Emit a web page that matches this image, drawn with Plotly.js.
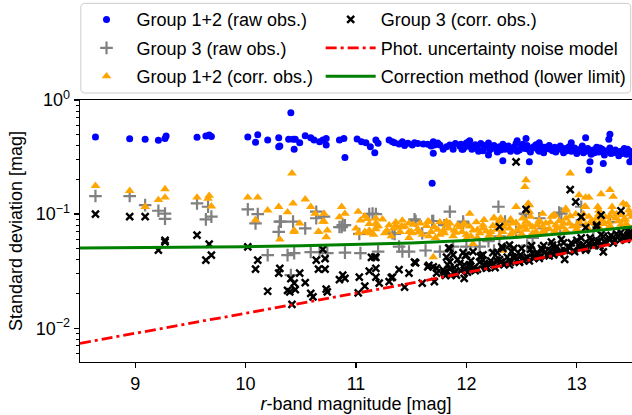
<!DOCTYPE html>
<html>
<head>
<meta charset="utf-8">
<script src="https://cdn.plot.ly/plotly-3.0.1.min.js"></script>
<style>
  html, body { margin: 0; padding: 0; background: #fff; overflow: hidden; }
  #chart { width: 632px; height: 415px; }
</style>
</head>
<body>
<div id="chart"></div>
<script>
// ---- data: [r-band magnitude, standard deviation] ----
const group12Raw = [
  [8.64,0.473],[8.95,0.458],[9.09,0.452],[9.21,0.443],[9.27,0.461],[9.28,0.483],[9.56,0.471],[9.64,0.483],
  [9.67,0.493],[9.69,0.48],[10.02,0.473],[10.11,0.496],[10.09,0.426],[10.20,0.446],[10.30,0.467],[10.30,0.389],
  [10.41,0.774],[10.31,0.395],[10.39,0.452],[10.43,0.452],[10.45,0.452],[10.44,0.37],[10.49,0.422],[10.54,0.486],
  [10.59,0.467],[10.62,0.446],[10.67,0.431],[10.70,0.446],[10.73,0.461],[10.73,0.403],[10.85,0.446],[10.89,0.461],
  [10.90,0.314],[11.01,0.455],[11.05,0.431],[11.09,0.422],[11.13,0.389],[11.18,0.446],[11.20,0.417],[11.17,0.345],
  [11.30,0.446],[11.35,0.422],[11.39,0.411],[11.42,0.431],[11.47,0.417],[11.51,0.403],[11.53,0.422],[11.61,0.411],
  [11.65,0.409],[11.70,0.431],[11.71,0.403],[11.70,0.341],[11.76,0.403],[11.79,0.37],[11.85,0.403],[11.88,0.37],
  [11.94,0.395],[11.97,0.37],[12.02,0.431],[11.69,0.186],[11.33,0.43],[11.44,0.40],[11.56,0.415],[11.68,0.395],
  [11.74,0.42],[11.82,0.39],[11.90,0.415],
  [12.33,0.293],[12.57,0.287],[12.46,0.44],[12.54,0.461],[12.95,0.422],[13.08,0.467],[13.30,0.50],[13.29,0.452],
  [13.11,0.243],[13.12,0.287],[13.24,0.278],[12.03,0.44],[12.20,0.33],[12.66,0.422],[13.48,0.287],
  [11.95,0.41],[11.98,0.385],[12.00,0.42],[12.03,0.395],[12.05,0.37],[12.08,0.405],[12.10,0.38],[12.13,0.415],
  [12.15,0.36],[12.18,0.395],[12.20,0.42],[12.23,0.375],[12.25,0.40],[12.28,0.35],[12.30,0.39],[12.33,0.41],
  [12.35,0.37],[12.38,0.395],[12.40,0.355],[12.43,0.385],[12.45,0.415],[12.48,0.365],[12.50,0.39],[12.53,0.375],
  [12.55,0.40],[12.58,0.35],[12.60,0.38],[12.63,0.405],[12.65,0.365],[12.68,0.39],[12.70,0.345],[12.73,0.375],
  [12.75,0.40],[12.78,0.36],[12.80,0.385],[12.83,0.37],[12.85,0.395],[12.88,0.345],[12.90,0.375],[12.93,0.39],
  [12.95,0.355],[12.98,0.38],[13.00,0.34],[13.03,0.37],[13.05,0.395],[13.08,0.355],[13.10,0.375],[13.13,0.335],
  [13.15,0.365],[13.18,0.385],[13.20,0.35],[13.23,0.37],[13.25,0.33],[13.28,0.36],[13.30,0.38],[13.33,0.345],
  [13.35,0.365],[13.38,0.325],[13.40,0.355],[13.43,0.375],[13.45,0.335],[13.48,0.355],[13.50,0.32],
  [11.96,0.37],[12.01,0.395],[12.06,0.39],[12.11,0.355],[12.16,0.40],[12.21,0.365],[12.26,0.385],[12.31,0.365],
  [12.36,0.39],[12.41,0.375],[12.46,0.355],[12.51,0.41],[12.56,0.37],[12.61,0.39],[12.66,0.355],[12.71,0.385],
  [12.76,0.37],[12.81,0.35],[12.86,0.38],[12.91,0.36],[12.96,0.375],[13.01,0.36],[13.06,0.345],[13.11,0.36],
  [13.16,0.345],[13.21,0.38],[13.26,0.355],[13.31,0.34],[13.36,0.35],[13.41,0.34],[13.46,0.37],[13.49,0.34]
];

const group3Raw = [
  [8.64,0.144],[8.95,0.144],[9.09,0.12],[9.21,0.107],[9.27,0.101],[9.27,0.091],[9.56,0.124],[9.66,0.116],
  [9.64,0.09],[9.69,0.095],[10.02,0.11],[10.11,0.1],[10.09,0.083],[10.30,0.07],
  [10.32,0.086],[10.43,0.086],[10.54,0.075],[10.20,0.0437],[10.38,0.0437],[10.44,0.0455],[10.59,0.0465],
  [10.67,0.0465],[10.74,0.0455],[10.90,0.046],[10.41,0.0292],[10.85,0.077],[10.88,0.08],
  [10.31,0.086],[10.64,0.105],[10.64,0.092],[10.71,0.095],[10.87,0.077],[10.90,0.08],[11.12,0.1],[11.18,0.1],
  [11.03,0.067],[11.35,0.067],[11.53,0.09],[11.69,0.087],[11.85,0.105],[11.80,0.08],[11.97,0.083],
  [11.15,0.101],[11.33,0.068],[11.42,0.047],[11.48,0.047],[11.54,0.087],[11.63,0.048],[11.70,0.087],[11.76,0.047],
  [11.88,0.052],[12.00,0.052],[12.12,0.052],[12.29,0.116],[12.53,0.101],[12.86,0.101],[11.20,0.047],[11.39,0.052],
  [11.04,0.0455],[11.60,0.068],
  [12.84,0.103],[12.66,0.092],[12.54,0.1],[12.35,0.086],[11.97,0.086],[13.04,0.116],
  [12.2,0.058],[12.3,0.064],[12.45,0.07],[12.6,0.062],[12.7,0.075],[12.85,0.068],[13.0,0.08],[13.15,0.072],
  [13.3,0.085],[13.45,0.078],[12.25,0.048],[12.4,0.05],[12.55,0.053]
];

const group12Corr = [
  [8.64,0.177],[8.95,0.16],[9.09,0.116],[9.21,0.133],[9.27,0.166],[9.27,0.14],[9.56,0.14],[9.66,0.137],
  [9.67,0.145],[9.69,0.117],[10.02,0.14],[10.11,0.14],[10.09,0.0886],[10.20,0.108],[10.30,0.116],
  [10.31,0.06],[10.44,0.07],[10.49,0.083],[10.66,0.07],[10.71,0.086],[10.74,0.072],[10.73,0.063],
  [10.42,0.228],[10.43,0.124],[10.38,0.104],[10.54,0.135],[10.59,0.116],[10.63,0.101],[10.71,0.101],[10.87,0.116],
  [10.90,0.101],[10.85,0.094],[11.02,0.105],[11.08,0.096],[11.18,0.092],[11.19,0.078],[11.12,0.072],[11.30,0.08],
  [11.36,0.077],[11.41,0.078],[11.48,0.083],[11.51,0.068],[11.66,0.086],[11.71,0.077],[11.79,0.072],[11.85,0.083],
  [11.94,0.077],[10.70,0.086],[10.66,0.07],[10.44,0.072],
  [11.18,0.083],[11.12,0.068],[11.36,0.08],[11.42,0.077],[11.48,0.07],[11.57,0.07],[11.65,0.086],[11.76,0.066],
  [11.82,0.08],[11.89,0.072],[12.03,0.101],[11.97,0.08],[12.06,0.055],[12.15,0.075],[12.25,0.092],[11.70,0.042],
  [12.33,0.048],[12.42,0.083],[12.54,0.086],[12.57,0.12],[12.66,0.086],[12.77,0.095],[12.90,0.108],[13.08,0.116],
  [13.20,0.108],[13.32,0.116],[13.45,0.12],
  [12.94,0.228],[12.54,0.199],[12.53,0.173],[12.56,0.124],[13.30,0.163],[13.33,0.142],[13.22,0.15],[13.11,0.14],
  [13.02,0.147],[13.08,0.14],[12.25,0.093],[12.31,0.092],[12.90,0.112],[13.07,0.116],[13.19,0.116],[13.42,0.124],
  [12.45,0.116],[12.57,0.105],[12.69,0.101],[12.80,0.098],
  [11.00,0.075],[11.04,0.088],[11.08,0.07],[11.12,0.082],[11.16,0.066],[11.20,0.079],[11.24,0.09],[11.28,0.072],
  [11.32,0.064],[11.36,0.085],[11.40,0.07],[11.44,0.078],[11.48,0.062],[11.52,0.081],[11.56,0.074],[11.60,0.066],
  [11.64,0.079],[11.68,0.07],[11.72,0.062],[11.76,0.085],[11.80,0.068],[11.84,0.075],[11.88,0.064],[11.92,0.08],
  [11.96,0.07],[12.00,0.066],[12.03,0.078],[12.06,0.072],[12.09,0.085],[12.12,0.068],[12.15,0.08],[12.18,0.071],
  [12.21,0.066],[12.24,0.079],[12.27,0.073],[12.30,0.088],[12.33,0.07],[12.36,0.082],[12.39,0.075],[12.42,0.069],
  [12.45,0.084],[12.48,0.076],[12.51,0.092],[12.54,0.073],[12.57,0.081],[12.60,0.077],[12.63,0.07],[12.66,0.088],
  [12.69,0.078],[12.72,0.083],[12.75,0.074],[12.78,0.096],[12.81,0.08],[12.84,0.087],[12.87,0.077],[12.90,0.092],
  [12.93,0.083],[12.96,0.078],[12.99,0.1],[13.02,0.085],[13.05,0.09],[13.08,0.08],[13.11,0.095],[13.14,0.087],
  [13.17,0.082],[13.20,0.1],[13.23,0.089],[13.26,0.094],[13.29,0.085],[13.32,0.104],[13.35,0.092],[13.38,0.087],
  [13.41,0.098],[13.44,0.09],[13.47,0.108],[13.50,0.095],
  [11.02,0.068],[11.10,0.091],[11.18,0.074],[11.26,0.068],[11.34,0.075],[11.42,0.088],[11.50,0.07],[11.58,0.083],
  [11.66,0.064],[11.74,0.073],[11.82,0.086],[11.90,0.069],[11.98,0.083],[12.04,0.064],[12.10,0.073],[12.16,0.089],
  [12.22,0.07],[12.28,0.081],[12.34,0.077],[12.40,0.09],[12.46,0.072],[12.52,0.079],[12.58,0.095],[12.64,0.08],
  [12.70,0.072],[12.76,0.085],[12.82,0.075],[12.88,0.083],[12.94,0.096],[13.00,0.079],[13.06,0.1],[13.12,0.084],
  [13.18,0.092],[13.24,0.082],[13.30,0.096],[13.36,0.1],[13.42,0.088],[13.48,0.1],
  [12.0,0.061],[12.2,0.063],[12.4,0.066],[12.6,0.068],[12.8,0.071],[13.0,0.074],[13.2,0.077],[13.4,0.081],
  [12.1,0.062],[12.3,0.064],[12.5,0.067],[12.7,0.07],[12.9,0.072],[13.1,0.075],[13.3,0.079],[13.45,0.082]
];

const group3Corr = [
  [8.64,0.1],[8.95,0.095],[9.09,0.095],[9.56,0.0655],[9.27,0.059],
  [9.21,0.0483],[9.27,0.0572],[9.67,0.0545],[9.64,0.0395],[9.69,0.0437],[10.02,0.0516],[10.11,0.0395],[10.09,0.033],
  [10.20,0.0211],[10.31,0.0335],[10.30,0.0304],[10.41,0.0272],[10.44,0.0248],[10.49,0.0304],[10.54,0.0251],
  [10.38,0.0215],[10.45,0.0218],[10.40,0.0208],[10.42,0.0162],[10.59,0.0202],[10.61,0.0188],[10.64,0.0395],
  [10.66,0.033],[10.72,0.033],[10.72,0.0408],[10.70,0.049],[10.73,0.022],[10.74,0.0208],[10.85,0.0267],
  [10.88,0.0292],[10.90,0.0273],
  [11.03,0.0281],[11.08,0.0234],[11.02,0.0204],[11.12,0.0317],[11.18,0.0334],[11.18,0.0281],[11.21,0.0248],
  [11.14,0.0418],[11.18,0.0418],[11.32,0.0278],[11.39,0.0326],[11.30,0.0256],[11.44,0.0229],[11.48,0.0304],
  [11.54,0.0374],[11.60,0.0248],[11.65,0.0345],[11.70,0.0345],[11.73,0.0304],[11.71,0.0256],[11.79,0.0323],
  [11.85,0.0382],[11.85,0.0499],[12.00,0.0437],[11.91,0.0292],[11.98,0.0273],[12.03,0.0345],[12.15,0.0395],
  [12.18,0.0336],[12.27,0.0395],[12.30,0.0775],[12.33,0.05],[12.39,0.0534],[12.42,0.0421],[12.48,0.038],
  [12.54,0.11],[12.60,0.0451],[12.69,0.0483],[12.78,0.0534],[12.89,0.0401],[12.99,0.128],[13.04,0.0946],
  [13.08,0.0483],[13.18,0.0775],[13.22,0.098],[13.24,0.0466],[13.40,0.107],
  [12.45,0.287],[12.94,0.164],[13.08,0.076],[13.18,0.08],
  [11.84,0.0506],[11.99,0.0433],[12.13,0.042],[11.53,0.038],[11.17,0.042],[11.33,0.028],[11.66,0.0356],[11.73,0.0336],
  [11.80,0.031],[11.83,0.036],[11.86,0.029],[11.89,0.034],[11.92,0.040],[11.95,0.032],[11.98,0.036],[12.01,0.031],
  [12.04,0.039],[12.07,0.034],[12.10,0.033],[12.13,0.043],[12.16,0.036],[12.19,0.034],[12.22,0.039],[12.25,0.036],
  [12.28,0.046],[12.31,0.038],[12.34,0.036],[12.37,0.042],[12.40,0.038],[12.43,0.050],[12.46,0.040],[12.49,0.044],
  [12.52,0.039],[12.55,0.042],[12.58,0.049],[12.61,0.041],[12.64,0.046],[12.67,0.043],[12.70,0.053],[12.73,0.044],
  [12.76,0.048],[12.79,0.044],[12.82,0.052],[12.85,0.047],[12.88,0.056],[12.91,0.048],[12.94,0.051],[12.97,0.048],
  [13.00,0.059],[13.03,0.050],[13.06,0.054],[13.09,0.050],[13.12,0.062],[13.15,0.053],[13.18,0.057],[13.21,0.053],
  [13.24,0.064],[13.27,0.056],[13.30,0.060],[13.33,0.056],[13.36,0.067],[13.39,0.059],[13.42,0.063],[13.45,0.060],
  [13.48,0.070],[13.50,0.062],
  [11.81,0.029],[11.85,0.033],[11.90,0.031],[11.94,0.037],[11.99,0.033],[12.03,0.036],[12.08,0.032],[12.12,0.038],
  [12.17,0.035],[12.21,0.037],[12.26,0.034],[12.30,0.040],[12.35,0.037],[12.39,0.036],[12.44,0.042],[12.48,0.038],
  [12.53,0.041],[12.57,0.039],[12.62,0.043],[12.66,0.041],[12.71,0.046],[12.75,0.043],[12.80,0.047],[12.84,0.045],
  [12.89,0.048],[12.93,0.051],[12.98,0.047],[13.02,0.053],[13.07,0.051],[13.11,0.055],[13.16,0.055],[13.20,0.058],
  [13.25,0.057],[13.29,0.062],[13.34,0.060],[13.38,0.064],[13.43,0.062],[13.47,0.066],[13.49,0.064],
  [11.82,0.042],[11.88,0.044],[11.97,0.046],[12.06,0.047],[12.15,0.044],[12.24,0.046],[12.32,0.052],[12.41,0.047],
  [12.50,0.050],[12.59,0.053],[12.68,0.050],[12.77,0.057],[12.86,0.060],[12.95,0.056],[13.04,0.062],[13.13,0.059],
  [13.22,0.066],[13.31,0.065],[13.40,0.069],[13.46,0.072]
];

// model curves sampled along magnitude
const modelMag   = [8.5, 9.0, 9.5, 10.0, 10.5, 11.0, 11.5, 12.0, 12.5, 13.0, 13.5];
const photNoise  = [0.00738, 0.00902, 0.0110, 0.01346, 0.01644, 0.0201, 0.0248, 0.0308, 0.0382, 0.0476, 0.0592];
const corrLimit  = [0.0505, 0.0508, 0.0512, 0.0518, 0.0527, 0.0540, 0.0559, 0.0588, 0.0629, 0.0690, 0.0771];

// axis ticks
const xTickVals   = [9, 10, 11, 12, 13];
const yTickVals   = [0.01, 0.1, 1];
const yTickText   = ['10<sup>\u22122</sup>', '10<sup>\u22121</sup>', '10<sup>0</sup>'];
const yMinorTicks = [0.006, 0.007, 0.008, 0.009,
                     0.02, 0.03, 0.04, 0.05, 0.06, 0.07, 0.08, 0.09,
                     0.2, 0.3, 0.4, 0.5, 0.6, 0.7, 0.8, 0.9];

const FONT = 'Liberation Sans, Arial, Helvetica, sans-serif';
const FS = 18;

const col = (pairs, i) => pairs.map(p => p[i]);

const traces = [
  {
    type: 'scatter', mode: 'markers', name: 'Group 1+2 (raw obs.)',
    x: col(group12Raw, 0), y: col(group12Raw, 1),
    marker: { symbol: 'circle', size: 7, color: '#0000ff', line: { width: 0 } },
    legend: 'legend', legendgroup: 'g1'
  },
  {
    type: 'scatter', mode: 'markers', name: 'Group 3 (raw obs.)',
    x: col(group3Raw, 0), y: col(group3Raw, 1),
    marker: { symbol: 'cross-thin', size: 9, color: '#808080', line: { width: 2.2, color: '#808080' } },
    legend: 'legend', legendgroup: 'g2'
  },
  {
    type: 'scatter', mode: 'markers', name: 'Group 1+2 (corr. obs.)',
    x: col(group12Corr, 0), y: col(group12Corr, 1),
    marker: { symbol: 'triangle-up', size: 8.5, color: '#ffa500', line: { width: 0 } },
    legend: 'legend', legendgroup: 'g3'
  },
  {
    type: 'scatter', mode: 'markers', name: 'Group 3 (corr. obs.)',
    x: col(group3Corr, 0), y: col(group3Corr, 1),
    marker: { symbol: 'x-thin', size: 7, color: '#000000', line: { width: 2.4, color: '#000000' } },
    legend: 'legend2', legendgroup: 'g4'
  },
  {
    type: 'scatter', mode: 'lines', name: 'Phot. uncertainty noise model',
    x: modelMag, y: photNoise,
    line: { color: '#ff0000', width: 2.8, dash: '11px,4px,3px,4px' },
    legend: 'legend2', legendgroup: 'g5'
  },
  {
    type: 'scatter', mode: 'lines', name: 'Correction method (lower limit)',
    x: modelMag, y: corrLimit,
    line: { color: '#008000', width: 3 },
    legend: 'legend2', legendgroup: 'g6'
  }
];

// rounded legend frame (paper coordinates)
const bx0 = 0.0015, bx1 = 0.9976, by0 = 1.0267, by1 = 1.369, rx = 0.0075, ry = 0.016;
const framePath =
  `M ${bx0 + rx},${by1} L ${bx1 - rx},${by1} Q ${bx1},${by1} ${bx1},${by1 - ry} ` +
  `L ${bx1},${by0 + ry} Q ${bx1},${by0} ${bx1 - rx},${by0} L ${bx0 + rx},${by0} ` +
  `Q ${bx0},${by0} ${bx0},${by0 + ry} L ${bx0},${by1 - ry} Q ${bx0},${by1} ${bx0 + rx},${by1} Z`;

const legendCommon = {
  xanchor: 'left', yanchor: 'top', orientation: 'v',
  bgcolor: 'rgba(0,0,0,0)', borderwidth: 0,
  tracegroupgap: 2, itemwidth: 50,
  font: { family: FONT, size: FS, color: '#000' }
};

const layout = {
  width: 632, height: 415,
  margin: { l: 80, r: 0, t: 100, b: 53 },
  paper_bgcolor: '#ffffff', plot_bgcolor: '#ffffff',
  font: { family: FONT, size: FS, color: '#000' },
  showlegend: true,
  legend:  Object.assign({}, legendCommon, { x: -0.0063, y: 1.377 }),
  legend2: Object.assign({}, legendCommon, { x: 0.436, y: 1.377 }),
  xaxis: {
    range: [8.5, 13.5],
    tickmode: 'array', tickvals: xTickVals,
    ticks: 'outside', ticklen: 5, tickwidth: 1.3, tickcolor: '#000',
    showline: true, linecolor: '#000', linewidth: 1.3, mirror: true,
    showgrid: false, zeroline: false,
    tickfont: { family: FONT, size: FS, color: '#000' },
    title: { text: '<i>r</i>-band magnitude [mag]', font: { family: FONT, size: FS, color: '#000' }, standoff: 4 }
  },
  yaxis: {
    type: 'log', range: [Math.log10(0.00506), 0],
    tickmode: 'array', tickvals: yTickVals, ticktext: yTickText,
    ticks: 'outside', ticklen: 5, tickwidth: 1.3, tickcolor: '#000',
    showline: true, linecolor: '#000', linewidth: 1.3, mirror: false,
    showgrid: false, zeroline: false,
    minor: { tickmode: 'array', tickvals: yMinorTicks, ticks: 'outside', ticklen: 3, tickwidth: 1, tickcolor: '#000', showgrid: false },
    tickfont: { family: FONT, size: FS, color: '#000' },
    title: { text: 'Standard deviation [mag]', font: { family: FONT, size: FS, color: '#000' }, standoff: 8 }
  },
  shapes: [
    { type: 'path', xref: 'paper', yref: 'paper', path: framePath,
      line: { color: '#cccccc', width: 1 }, fillcolor: '#ffffff', layer: 'below' }
  ]
};

Plotly.newPlot('chart', traces, layout, { staticPlot: true, displayModeBar: false });
</script>
</body>
</html>
